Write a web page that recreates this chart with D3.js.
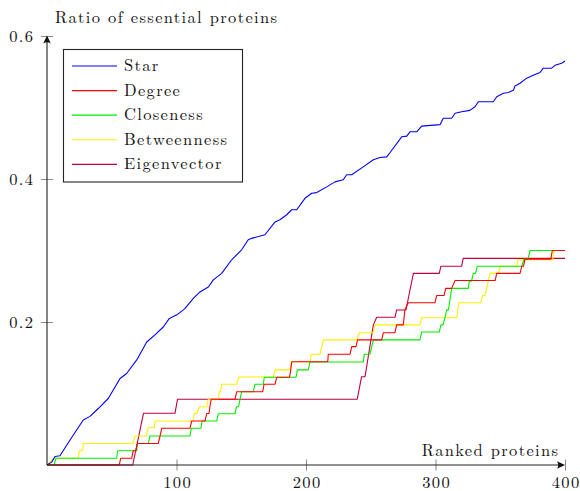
<!DOCTYPE html>
<html><head><meta charset="utf-8">
<script src="https://cdn.jsdelivr.net/npm/d3@7"></script>
<style>body{margin:0;background:#fff}</style>
</head><body>
<svg id="chart" width="580" height="491"></svg>
<script>
const seriesNames = ["Star","Degree","Closeness","Betweenness","Eigenvector"];
const seriesColors = ["#0000ff","#ff0000","#00ee00","#ffee00","#c0003f"];
const xTicks = [100,200,300,400];
const yTicks = [0.2,0.4,0.6];
const xLabel = "Ranked proteins";
const yLabel = "Ratio of essential proteins";

const starData = [[0,0],[3.6,0.004],[6.2,0.012],[10,0.013],[17.8,0.035],[28,0.063],[33.2,0.068],[39.6,0.079],[47.3,0.093],[56.4,0.121],[61.5,0.128],[69.3,0.147],[77,0.172],[83.4,0.182],[89.8,0.193],[94.5,0.205],[100.2,0.210],[105.3,0.217],[106.6,0.219],[113,0.233],[118.1,0.242],[124.6,0.249],[128.4,0.259],[134.9,0.268],[142.6,0.287],[150.3,0.301],[155.4,0.315],[158.1,0.317],[168.3,0.322],[176.1,0.340],[179.9,0.343],[185.1,0.350],[189,0.357],[192.8,0.357],[199.2,0.373],[204.4,0.380],[208.3,0.381],[216,0.389],[222.4,0.396],[228.8,0.399],[231.4,0.406],[235.3,0.406],[244.2,0.417],[252,0.427],[257.1,0.430],[262.3,0.431],[264.9,0.437],[273.9,0.459],[277.8,0.460],[280.3,0.466],[285.5,0.466],[289.3,0.474],[303.5,0.476],[306,0.485],[312.5,0.485],[315.1,0.492],[320.2,0.494],[326.6,0.496],[330.5,0.501],[333.1,0.508],[344.6,0.508],[347.3,0.515],[352.4,0.520],[356.2,0.521],[360.1,0.524],[361.4,0.530],[365.3,0.534],[370.4,0.541],[375.5,0.545],[380.7,0.549],[383.2,0.555],[389.7,0.555],[392.3,0.559],[397.4,0.562],[400,0.565]];

const degreeData = [[0,0],[55.8,0],[56.9,0.0094],[65.4,0.0094],[66.6,0.020],[68.7,0.020],[69.7,0.030],[85.9,0.030],[87.3,0.0406],[88.6,0.0513],[110.4,0.0513],[111.7,0.0615],[122,0.0615],[123.3,0.072],[125.1,0.072],[125.9,0.0825],[126.8,0.092],[145.2,0.092],[146.5,0.1025],[166.6,0.1025],[167.6,0.113],[176.1,0.113],[177.4,0.1227],[187.3,0.1227],[188.2,0.133],[189,0.1445],[216.8,0.1445],[217.2,0.155],[234,0.155],[235.3,0.1655],[238.6,0.1655],[239.8,0.175],[258.5,0.175],[259.7,0.185],[268.7,0.185],[270,0.196],[275.1,0.196],[276.4,0.217],[279,0.227],[299.6,0.227],[300.9,0.237],[306.6,0.237],[307.9,0.247],[312.5,0.247],[315.1,0.258],[346,0.258],[347.3,0.268],[365.3,0.268],[366.6,0.278],[368,0.278],[369.1,0.288],[389,0.288],[390.2,0.300],[400,0.300]];

const closenessData = [[0,0],[5.4,0],[7,0.0094],[53.8,0.0094],[54.6,0.020],[69.3,0.020],[69.7,0.030],[78.2,0.030],[79.5,0.0406],[110.4,0.0406],[111.4,0.0513],[118.9,0.0513],[119.7,0.0615],[131,0.0615],[132.3,0.0716],[145.2,0.0716],[146.3,0.0815],[147.9,0.0815],[150.3,0.1025],[159.3,0.1025],[160.6,0.113],[167,0.113],[167.8,0.1227],[192.3,0.1227],[193.3,0.133],[201.8,0.133],[203.1,0.144],[244.2,0.144],[245,0.155],[249.4,0.155],[252,0.175],[288,0.175],[289.3,0.186],[302.9,0.186],[304.2,0.196],[305.8,0.196],[307.3,0.206],[308.6,0.217],[310,0.217],[312.5,0.247],[325.3,0.247],[326.1,0.257],[327.8,0.257],[329.2,0.268],[330.9,0.268],[332.3,0.278],[366.6,0.278],[368.3,0.288],[371.4,0.288],[373,0.300],[400,0.300]];

const betweennessData = [[0,0],[4.9,0.0094],[24.2,0.0094],[24.9,0.020],[27.6,0.020],[28,0.030],[66.2,0.030],[68,0.0406],[76.4,0.0406],[78.2,0.052],[82.9,0.052],[83.4,0.0615],[113,0.0615],[113.8,0.072],[115.6,0.072],[117.6,0.0815],[123.3,0.0815],[124.6,0.092],[132.3,0.092],[133,0.1025],[134.1,0.1025],[134.9,0.113],[146.5,0.113],[148.1,0.123],[174.8,0.123],[176.1,0.133],[187.6,0.133],[189,0.1445],[203.1,0.1445],[203.9,0.155],[210.8,0.155],[213.4,0.175],[239.2,0.175],[241.2,0.185],[251.7,0.185],[253.3,0.196],[288,0.196],[289.3,0.206],[316.4,0.206],[318.1,0.227],[334.9,0.227],[336.4,0.237],[338.2,0.237],[340.8,0.258],[342.1,0.268],[348.5,0.268],[350.3,0.278],[362.7,0.278],[363.5,0.287],[390.5,0.287],[391.5,0.300],[400,0.300]];

const eigenvectorData = [[0,0],[66.2,0],[74.5,0.0723],[98.8,0.0723],[100.8,0.092],[239.6,0.092],[242.9,0.1235],[245.6,0.1235],[252,0.196],[254.6,0.2066],[268.7,0.2066],[270,0.2168],[277.2,0.2168],[282.9,0.268],[302.9,0.268],[304.2,0.278],[320.2,0.278],[321.4,0.289],[400,0.289]];

const allSeries = [starData, degreeData, closenessData, betweennessData, eigenvectorData];

const FONT = '"Latin Modern Roman","CMU Serif","Liberation Serif",serif';
const FS = "16.5px";

const svg = d3.select("#chart");
const x = d3.scaleLinear().domain([0,400]).range([47,565]);
const y = d3.scaleLinear().domain([0,0.6]).range([465,36]);

// series lines
const line = d3.line().x(d=>x(d[0])).y(d=>y(d[1]));
const order = [4,3,2,1,0];
order.forEach(i=>{
  svg.append("path").datum(allSeries[i]).attr("d",line)
    .attr("fill","none").attr("stroke",seriesColors[i]).attr("stroke-width",1.1)
    .attr("stroke-linejoin","round");
});

// x axis
const xAxis = d3.axisBottom(x).tickValues(xTicks).tickFormat(d3.format("d")).tickSizeOuter(0);
const gx = svg.append("g").attr("transform",`translate(0,${y(0)})`).call(xAxis);
gx.select(".domain").remove();
gx.selectAll(".tick line").attr("y1",-5.5).attr("y2",5.5).attr("stroke","#8a8a8a");
gx.selectAll(".tick text").attr("y",22.5).attr("dy",0).attr("fill","#111");

// y axis
const yAxis = d3.axisLeft(y).tickValues(yTicks).tickFormat(d3.format(".1f")).tickSizeOuter(0);
const gy = svg.append("g").attr("transform",`translate(${x(0)},0)`).call(yAxis);
gy.select(".domain").remove();
gy.selectAll(".tick line").attr("x1",-6).attr("x2",6).attr("stroke","#8a8a8a");
gy.selectAll(".tick text").attr("x",-14).attr("dy","0.33em").attr("fill","#111");

// axis lines with arrows
const ax = svg.append("g").attr("stroke","#222").attr("fill","none");
ax.append("line").attr("x1",x(0)).attr("y1",y(0)).attr("x2",x(400)-3).attr("y2",y(0)).attr("stroke-width",1.1);
ax.append("line").attr("x1",x(0)).attr("y1",y(0)).attr("x2",x(0)).attr("y2",y(0.6)+3).attr("stroke-width",1.1);
const ex = x(400), ey = y(0);
svg.append("path").attr("d",`M${ex},${ey} L${ex-8},${ey-3.8} Q${ex-5.5},${ey} ${ex-8},${ey+3.8} Z`).attr("fill","#111");
const tx = x(0), ty = y(0.6)-0.5;
svg.append("path").attr("d",`M${tx},${ty} L${tx-3.8},${ty+8} Q${tx},${ty+5.5} ${tx+3.8},${ty+8} Z`).attr("fill","#111");

// axis labels
const titleText = svg.append("text").attr("x",55).attr("y",23).attr("fill","#111").text(yLabel);
const xLabText = svg.append("text").attr("x",558).attr("y",456).attr("text-anchor","end").attr("fill","#111").text(xLabel);

// legend
const lg = svg.append("g");
lg.append("rect").attr("x",63.5).attr("y",49.5).attr("width",179).attr("height",132.5)
  .attr("fill","#fff").attr("stroke","#222").attr("stroke-width",1.1);
const rowY = d3.scalePoint().domain(seriesNames).range([66,164.3]);
seriesNames.forEach((n,i)=>{
  lg.append("line").attr("x1",72).attr("x2",117).attr("y1",rowY(n)).attr("y2",rowY(n))
    .attr("stroke",seriesColors[i]).attr("stroke-width",1.2);
  lg.append("text").attr("x",124).attr("y",rowY(n)+5).attr("fill","#111").text(n);
});

// font for all texts
svg.selectAll("text").style("font-family",FONT).style("font-size",FS);
gx.attr("font-family",null).attr("font-size",null);
gy.attr("font-family",null).attr("font-size",null);

// widen letter spacing so the text spans the reference's widths
const w0 = titleText.node().getComputedTextLength();
const ls = Math.max(0, (222 - w0) / (yLabel.length - 1));
svg.selectAll("text").style("letter-spacing", ls + "px");
xLabText.attr("x", 558 + ls);
gy.selectAll(".tick text").attr("x", -14 + ls);
gx.selectAll(".tick text").attr("dx", ls/2);
</script>
</body></html>
